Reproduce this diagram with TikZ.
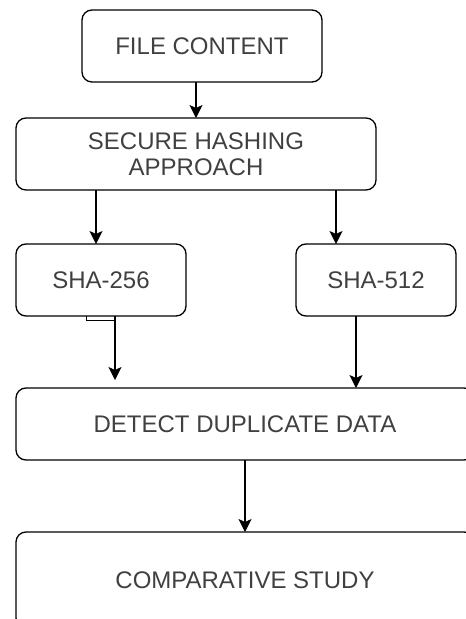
\documentclass[tikz,border=0pt]{standalone}
\usepackage{fontspec}
\setmainfont{Liberation Sans}
\usepackage{xcolor}
\usetikzlibrary{arrows.meta, positioning, calc}
\definecolor{txtgray}{HTML}{404040}

\begin{document}
\begin{tikzpicture}[
    x=1pt, y=-1pt,
    node distance=36pt,
    box/.style={draw, rectangle, rounded corners=10pt, line width=1.3pt, outer sep=0pt, inner sep=0pt, align=center, text=txtgray, font=\fontsize{24}{26}\selectfont},
    arrow/.style={line width=1.3pt, -{Stealth[length=13pt, width=13pt, inset=3pt]}}
]
\useasboundingbox (0,0) rectangle (466,619);
\clip (0,0) rectangle (466,619);
\node (file) [box, minimum width=240pt, minimum height=72pt] at (202,46) {FILE CONTENT};
\node (secure) [box, minimum width=360pt, minimum height=72pt, below=of file, xshift=-6pt] {SECURE HASHING\\APPROACH};
\node (sha256) [box, minimum width=170pt, minimum height=72pt, below right=54pt and 0pt of secure.south west] {SHA-256};
\node (sha512) [box, minimum width=160pt, minimum height=72pt, right=110pt of sha256] {SHA-512};
\node (detect) [box, minimum width=458pt, minimum height=72pt, below right=72pt and 0pt of sha256.south west] {DETECT DUPLICATE DATA};
\node (comp) [box, minimum width=458pt, minimum height=96pt, below right=72pt and 0pt of detect.south west] {COMPARATIVE STUDY};
% connector ends
\coordinate (in256) at ([xshift=-5pt]sha256.north);
\coordinate (in512) at ([xshift=-40pt]sha512.north);
\coordinate (out256) at ([xshift=14pt]sha256.south);
\coordinate (out512) at ([xshift=-20pt]sha512.south);
\coordinate (tip256) at ($(out256 |- detect.north)+(0pt,8pt)$);
\draw[arrow] (file.south -| secure.north) -- (secure.north);
\draw[arrow] (in256 |- secure.south) -- (in256);
\draw[arrow] (in512 |- secure.south) -- (in512);
\draw[line width=0.8pt] ([xshift=-15pt]sha256.south) -- ++(0pt,-4pt) -| (out256);
\draw[arrow] (out256) -- (tip256);
\draw[arrow] (out512) -- (out512 |- detect.north);
\draw[arrow] (detect) -- (comp);
\end{tikzpicture}
\end{document}
